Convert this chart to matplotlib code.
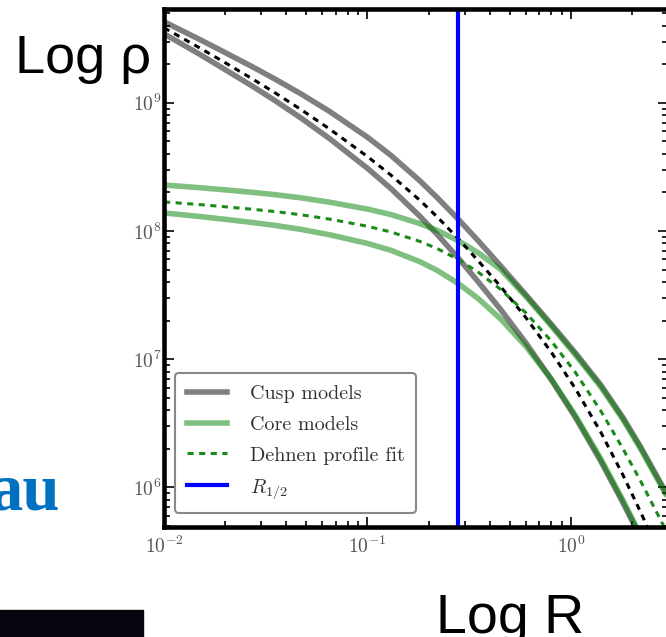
import numpy as np
import matplotlib
matplotlib.use('Agg')
import matplotlib.pyplot as plt
from matplotlib.lines import Line2D
from matplotlib.patches import Rectangle
from matplotlib.ticker import FuncFormatter

plt.rcParams['mathtext.fontset'] = 'cm'

# radius samples (same for every curve)
r_grid = [0.01, 0.015, 0.02, 0.027, 0.035, 0.047, 0.065, 0.1, 0.13, 0.18,
          0.22, 0.28, 0.35, 0.45, 0.6, 0.8, 1.05, 1.4, 1.8, 2.2, 3.0]

# densities, stored as log10(rho)
# cusp models (two gray bands) and their dehnen fit (black dashed)
cusp_upper = [9.633, 9.494, 9.392, 9.284, 9.187, 9.071, 8.934, 8.732, 8.592,
              8.395, 8.261, 8.090, 7.924, 7.730, 7.503, 7.273, 7.050, 6.800,
              6.545, 6.315, 5.930]
cusp_lower = [9.539, 9.378, 9.259, 9.133, 9.019, 8.883, 8.722, 8.489, 8.333,
              8.119, 7.974, 7.787, 7.604, 7.390, 7.128, 6.842, 6.548, 6.206,
              5.881, 5.608, 5.162]
cusp_fit = [9.586, 9.428, 9.313, 9.190, 9.080, 8.949, 8.797, 8.581, 8.438,
            8.243, 8.111, 7.938, 7.768, 7.569, 7.325, 7.055, 6.772, 6.432,
            6.097, 5.807, 5.336]

# core models (two green bands) and their dehnen fit (green dashed)
core_upper = [8.359, 8.338, 8.321, 8.302, 8.284, 8.259, 8.225, 8.171, 8.129,
              8.059, 8.005, 7.923, 7.830, 7.702, 7.490, 7.260, 7.035, 6.785,
              6.530, 6.300, 5.915]
core_lower = [8.141, 8.113, 8.091, 8.067, 8.044, 8.013, 7.971, 7.903, 7.850,
              7.762, 7.693, 7.589, 7.473, 7.316, 7.101, 6.844, 6.562, 6.224,
              5.900, 5.626, 5.180]
core_fit = [8.227, 8.206, 8.189, 8.170, 8.152, 8.127, 8.093, 8.037, 7.993,
            7.920, 7.863, 7.777, 7.679, 7.546, 7.362, 7.142, 6.898, 6.598,
            6.302, 6.049, 5.632]

r_half = 0.28

legend_labels = ['Cusp models', 'Core models', 'Dehnen profile fit', '$R_{1/2}$']

W, H = 666, 637
fig = plt.figure(figsize=(W / 100, H / 100), dpi=100)
ax = fig.add_axes([164 / W, 1 - 527 / H, 504 / W, 518 / H])

for log_rho in (cusp_upper, cusp_lower):
    ax.plot(r_grid, 10 ** np.array(log_rho), color='k', alpha=0.5, lw=4,
            solid_capstyle='butt', solid_joinstyle='round')
for log_rho in (core_upper, core_lower):
    ax.plot(r_grid, 10 ** np.array(log_rho), color='g', alpha=0.5, lw=4,
            solid_capstyle='butt', solid_joinstyle='round')

ax.plot(r_grid, 10 ** np.array(cusp_fit), color='k', lw=2.2, dashes=(2, 1.8))
ax.plot(r_grid, 10 ** np.array(core_fit), color='#1a8a1a', lw=2.2,
        dashes=(2, 1.8))

ax.axvline(r_half, color='#0000ff', lw=3)

ax.set_xscale('log')
ax.set_yscale('log')
ax.set_xlim(0.01, 3.0)
ax.set_ylim(4.9e5, 5.4e9)

# computer modern tick labels like the original
decade = FuncFormatter(lambda v, pos: r'$10^{%d}$' % round(np.log10(v)))
ax.xaxis.set_major_formatter(decade)
ax.yaxis.set_major_formatter(decade)

for s in ax.spines.values():
    s.set_linewidth(3.3)
ax.tick_params(which='both', direction='in', top=True, right=True,
               colors='k', labelcolor='#555555', labelsize=14, width=1.2)
ax.tick_params(which='major', length=7, pad=1.5)
ax.tick_params(which='minor', length=4.5)
ax.tick_params(axis='x', pad=6)

handles = [
    Line2D([], [], color='k', alpha=0.5, lw=4),
    Line2D([], [], color='g', alpha=0.5, lw=4),
    Line2D([], [], color='#1a8a1a', lw=2.2, dashes=(2, 1.8)),
    Line2D([], [], color='#0000ff', lw=3),
]
leg = ax.legend(handles, legend_labels, loc='lower left',
                bbox_to_anchor=(0.022, 0.027), borderaxespad=0,
                prop={'family': 'cmr10', 'size': 14.5}, labelcolor='#333333',
                handlelength=2.0, handletextpad=1.1, labelspacing=0.62,
                borderpad=0.6, fancybox=True, framealpha=1)
leg.get_frame().set_edgecolor('#888888')
leg.get_frame().set_linewidth(1.5)

# slide texts around the plot
fig.text(15 / W, 1 - 73 / H, 'Log ρ', family='Liberation Sans', fontsize=39,
         va='baseline', ha='left')
fig.text(436 / W, 1 - 633 / H, 'Log R', family='Liberation Sans', fontsize=40,
         va='baseline', ha='left')
fig.text(60 / W, 1 - 510 / H, 'au', family='Liberation Serif', weight='bold',
         fontsize=48, color='#0070c0', va='baseline', ha='right')

fig.patches.append(Rectangle((0, 0), 143 / W, 27 / H, transform=fig.transFigure,
                             color='#05050e', zorder=5))

fig.savefig('out.png', dpi=100)
plt.close(fig)
